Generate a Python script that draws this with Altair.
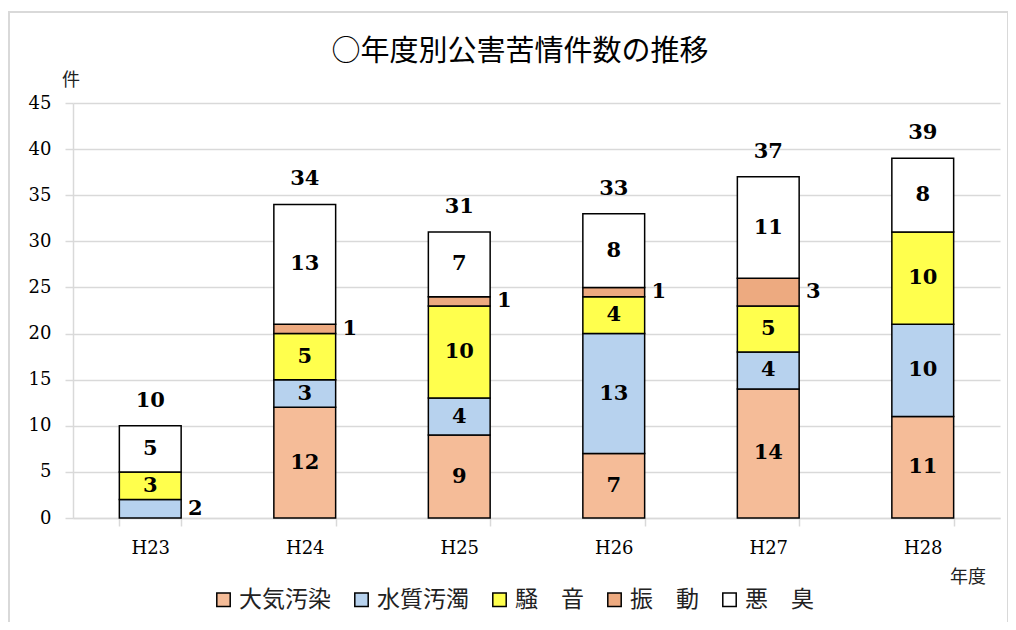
import altair as alt
import pandas as pd

years = ["H23", "H24", "H25", "H26", "H27", "H28"]
categories = ["大気汚染", "水質汚濁", "騒　音", "振　動", "悪　臭"]
air = [0, 12, 9, 7, 14, 11]
water = [2, 3, 4, 13, 4, 10]
noise = [3, 5, 10, 4, 5, 10]
vibration = [0, 1, 1, 1, 3, 0]
odor = [5, 13, 7, 8, 11, 8]
colors = ["#F5BC98", "#B7D2EE", "#FFFF4D", "#EDAA80", "#FFFFFF"]

title_text = "○年度別公害苦情件数の推移"
y_unit = "件"
x_unit = "年度"

series = [air, water, noise, vibration, odor]
rows = []
for ci, (cat, vals) in enumerate(zip(categories, series)):
    for yr, v in zip(years, vals):
        rows.append({"year": yr, "cat": cat, "idx": ci, "value": v})
df = pd.DataFrame(rows)
df = df[df["value"] > 0].reset_index(drop=True)
totals = pd.DataFrame({"year": years,
                       "total": [sum(s[i] for s in series) for i in range(len(years))]})

num_font = "DejaVu Serif"
jp_font = "Noto Sans CJK JP"
gray = "#d9d9d9"

x_scale = alt.Scale(domain=years, paddingInner=0.6, paddingOuter=0.3)
y_scale = alt.Scale(domain=[0, 45], nice=False)

x_axis = alt.Axis(title=None, labelAngle=0, labelFont=num_font, labelFontSize=18,
                  labelColor="black", domainColor=gray, domainWidth=1.5,
                  tickColor=gray, tickWidth=1.5, tickSize=8, tickBand="extent",
                  labelPadding=13, grid=False)
y_axis = alt.Axis(title=None, values=list(range(0, 46, 5)), grid=True, gridColor=gray,
                  gridWidth=1.5, domainColor=gray, domainWidth=1.5, tickColor=gray,
                  tickSize=8, tickWidth=1.5, labelFont=num_font, labelFontSize=18,
                  labelColor="black", labelPadding=14)

bars = alt.Chart(df).mark_bar(stroke="black", strokeWidth=1.5).encode(
    x=alt.X("year:N", scale=x_scale, axis=x_axis),
    y=alt.Y("value:Q", stack="zero", scale=y_scale, axis=y_axis),
    color=alt.Color("cat:N", scale=alt.Scale(domain=categories, range=colors),
                    legend=alt.Legend(orient="none", legendX=139, legendY=485,
                                      direction="horizontal", title=None,
                                      symbolType="square", symbolSize=180,
                                      symbolStrokeColor="black", symbolStrokeWidth=1.5,
                                      labelFont=jp_font, labelFontSize=23,
                                      labelColor="#222222", columnPadding=19,
                                      labelOffset=4)),
    order=alt.Order("idx:Q", sort="ascending"),
)

lab_base = alt.Chart(df).transform_stack(
    stack="value", groupby=["year"], as_=["y0", "y1"],
    sort=[alt.SortField("idx", order="ascending")]
).transform_calculate(
    mid="(datum.y0 + datum.y1) / 2",
    out="datum.cat == '振　動' || datum.value <= 2"
)

inside = lab_base.transform_filter("!datum.out").mark_text(
    font=num_font, fontWeight="bold", fontSize=21, color="black", baseline="middle"
).encode(
    x=alt.X("year:N", scale=x_scale),
    y=alt.Y("mid:Q", scale=y_scale),
    text="value:Q",
)

outside = lab_base.transform_filter("datum.out").mark_text(
    font=num_font, fontWeight="bold", fontSize=21, color="black", baseline="middle", dx=45
).encode(
    x=alt.X("year:N", scale=x_scale),
    y=alt.Y("mid:Q", scale=y_scale),
    text="value:Q",
)

total_labels = alt.Chart(totals).mark_text(
    font=num_font, fontWeight="bold", fontSize=21, color="black", baseline="middle", dy=-25
).encode(
    x=alt.X("year:N", scale=x_scale),
    y=alt.Y("total:Q", scale=y_scale),
    text="total:Q",
)

title = alt.Chart(pd.DataFrame({"t": [title_text]})).mark_text(
    font=jp_font, fontSize=29, color="black", baseline="middle"
).encode(x=alt.value(447), y=alt.value(-51), text="t:N")

ylab = alt.Chart(pd.DataFrame({"t": [y_unit]})).mark_text(
    font=jp_font, fontSize=18, color="#222222", baseline="middle"
).encode(x=alt.value(-2), y=alt.value(-22), text="t:N")

xlab = alt.Chart(pd.DataFrame({"t": [x_unit]})).mark_text(
    font=jp_font, fontSize=18, color="#222222", baseline="middle"
).encode(x=alt.value(895), y=alt.value(475), text="t:N")

frame = alt.Chart(pd.DataFrame({"t": [0]})).mark_rect(
    fill="transparent", stroke=gray, strokeWidth=2
).encode(x=alt.value(-64), x2=alt.value(935), y=alt.value(-91), y2=alt.value(560))

chart = alt.layer(frame, bars, inside, outside, total_labels, title, ylab, xlab).properties(
    width=927, height=415,
    padding={"left": 65, "top": 95, "right": 8, "bottom": 104},
    autosize=alt.AutoSizeParams(type="none"),
    background="white",
).configure_view(strokeWidth=0)

chart.save("out.html", embed_options={"renderer": "svg", "actions": False})
